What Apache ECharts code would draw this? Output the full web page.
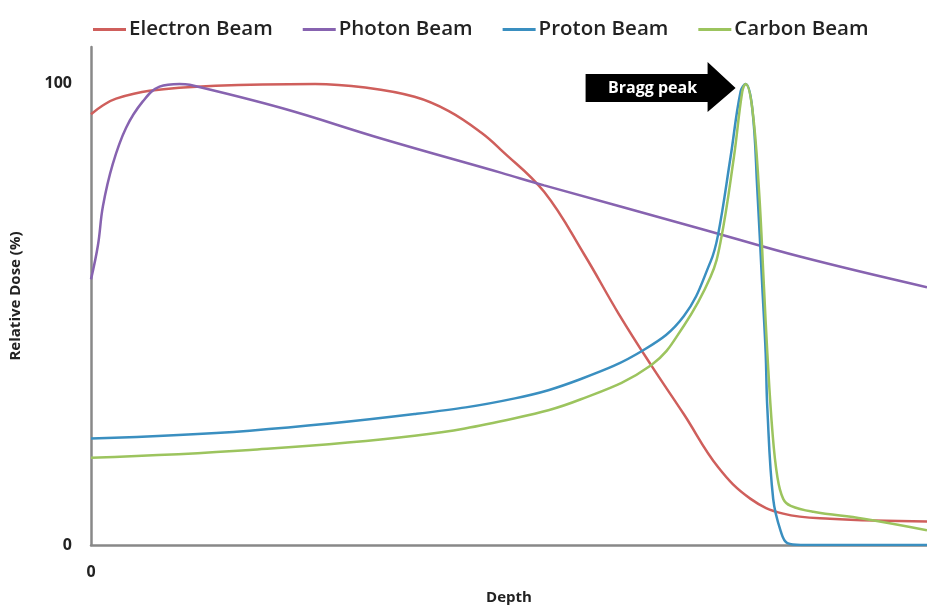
<!DOCTYPE html>
<html><head><meta charset="utf-8">
<script src="https://cdn.jsdelivr.net/npm/echarts@6/dist/echarts.min.js"></script>
<style>html,body{margin:0;padding:0;background:#fff;overflow:hidden}#c{width:927px;height:610px}</style>
</head><body><div id="c"></div>
<script>
var seriesNames = ['Electron Beam', 'Photon Beam', 'Proton Beam', 'Carbon Beam'];
var colors = ['#cf5f5c', '#8763b0', '#3a8fc0', '#9cc45e'];
var electron = [[0,93.4],[1.4,95.3],[3.0,96.8],[7.0,98.5],[14.9,99.6],[26.8,100],[32.8,99.2],[38.7,97.2],[42.8,94.1],[46.7,89.4],[49.1,85.6],[54.2,76.6],[59.0,63.0],[63.1,50.2],[67.0,39.0],[70.9,28.4],[75.0,16.9],[78.9,10.0],[82.8,6.8],[88.4,5.7],[100,5.1]];
var photon = [[0,57.6],[0.83,65.0],[1.43,73.5],[2.6,82.6],[4.2,90.5],[6.2,96.2],[8.2,99.4],[10.6,100],[11.8,99.8],[22.9,94.7],[34.8,88.1],[49.1,80.7],[54.2,78.0],[72.9,68.6],[84.9,62.5],[100,55.9]];
var proton = [[0,23.1],[19.0,24.8],[38.7,28.4],[50.7,31.8],[58.6,36.0],[66.2,42.4],[70.9,49.6],[74.1,61.4],[75.0,67.2],[76.5,84.1],[77.7,98.3],[78.3,100],[79.1,94.7],[79.7,77.1],[80.3,55.9],[80.7,41.7],[80.9,29.7],[81.6,10.0],[82.5,3.0],[83.3,0.4],[84.9,0],[100,0]];
var carbon = [[0,18.9],[19.0,20.6],[38.7,23.7],[50.7,27.5],[58.6,31.6],[67.0,39.0],[70.9,47.5],[74.1,58.1],[75.3,65.7],[76.9,84.1],[77.9,98.3],[78.3,100],[79.1,94.7],[79.9,77.1],[80.5,55.9],[80.9,41.7],[81.5,24.8],[82.1,14.8],[82.8,10.0],[83.7,8.5],[86.4,7.2],[92.4,5.7],[100,3.2]];
var yTickLabels = [0, 100];
var xTickLabels = [0];
var annotationText = 'Bragg peak';

var chart = echarts.init(document.getElementById('c'));
var datasets = [electron, photon, proton, carbon];
var series = seriesNames.map(function(n, i){
  return {name:n, type:'line', data:datasets[i], showSymbol:false, smooth:0.4,
    lineStyle:{width:2.5, color:colors[i]}, itemStyle:{color:colors[i]}, z: 2+i};
});
var F = '"Open Sans"';
chart.setOption({
  animation:false,
  textStyle:{fontFamily:F},
  grid:{left:88, right:0, top:47, bottom:53},
  legend:{left:88, top:14, itemWidth:33, itemHeight:3, itemGap:30, icon:'rect',
    textStyle:{fontSize:20.5, fontWeight:600, color:'#222', fontFamily:F, padding:[0,0,0,-2]},
    data:seriesNames},
  xAxis:{type:'value', min:0, max:100, interval:100,
    name:'Depth', nameLocation:'middle', nameGap:45,
    nameTextStyle:{fontSize:15, fontWeight:'bold', color:'#222', fontFamily:F},
    axisLine:{lineStyle:{color:'#888', width:2.5}}, axisTick:{show:false}, splitLine:{show:false},
    axisLabel:{margin:19, fontSize:16, fontWeight:'bold', color:'#222', fontFamily:F, showMaxLabel:false,
      formatter:function(v){return xTickLabels.indexOf(v)>=0 ? String(v) : '';}}},
  yAxis:{type:'value', min:0, max:108, interval:100,
    name:'Relative Dose (%)', nameLocation:'middle', nameGap:68,
    nameTextStyle:{fontSize:15, fontWeight:'bold', color:'#222', fontFamily:F},
    axisLine:{show:true, lineStyle:{color:'#888', width:2.5}}, axisTick:{show:false}, splitLine:{show:false},
    axisLabel:{margin:19, fontSize:16, fontWeight:'bold', color:'#222', fontFamily:F, showMaxLabel:false,
      formatter:function(v){return yTickLabels.indexOf(v)>=0 ? String(v) : '';}}},
  series:series
});
var tip = chart.convertToPixel({gridIndex:0}, [78.3, 100]);
var tx = tip[0]-10, ty = tip[1]+4;
chart.setOption({graphic:[
  {type:'polygon', shape:{points:[[tx-150,ty-14],[tx-28,ty-14],[tx-28,ty-26],[tx,ty],[tx-28,ty+24],[tx-28,ty+14],[tx-150,ty+14]]},
   style:{fill:'#000'}, z:10},
  {type:'text', x:tx-83, y:ty+1, style:{text:annotationText, fill:'#fff', font:'bold 16px "Open Sans"', textAlign:'center', textVerticalAlign:'middle'}, z:11}
]});
</script></body></html>
